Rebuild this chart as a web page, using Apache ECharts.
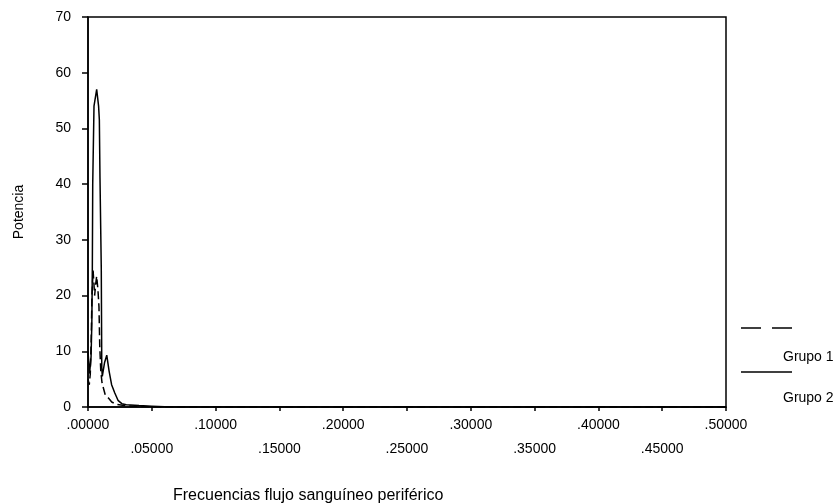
<!DOCTYPE html>
<html>
<head>
<meta charset="utf-8">
<script src="https://cdn.jsdelivr.net/npm/echarts@6/dist/echarts.min.js"></script>
<style>
html,body{margin:0;padding:0;background:#fff;}
#chart{width:839px;height:504px;}
</style>
</head>
<body>
<div id="chart"></div>
<script>
// Grupo 1 (dashed)
const freqG1 = [0, 0.0010, 0.0018, 0.0025, 0.0031, 0.0040, 0.0052, 0.0060, 0.0068, 0.0078, 0.0086, 0.0092, 0.0100, 0.0110, 0.0135, 0.0160, 0.0186, 0.0220, 0.0270, 0.0350, 0.0500, 0.0600, 0.5000];
const powG1  = [5,   4,      6,      12,     20,     24.5,   20,     22,     23.5,   21,     18,     11,     6.5,    4.3,    2.2,    1.6,    0.9,    0.5,    0.3,    0.15,   0.05,   0,      0];
// Grupo 2 (solid)
const freqG2 = [0, 0.0012, 0.0024, 0.0030, 0.0034, 0.0037, 0.0047, 0.0068, 0.0083, 0.0089, 0.0094, 0.0104, 0.0108, 0.0112, 0.0130, 0.0147, 0.0165, 0.0185, 0.0210, 0.0235, 0.0265, 0.0300, 0.0400, 0.0500, 0.0600, 0.0700, 0.5000];
const powG2  = [10,  6,      9,      15,     25,     40,     54,     57,     54,     51.5,   41,     25,     7,      5.5,    8,      9.3,    6.5,    4,      2.5,    1.2,    0.6,    0.4,    0.25,   0.15,   0.05,   0,      0];

const yTicks = [0, 10, 20, 30, 40, 50, 60, 70];
const seriesNames = ['Grupo 1', 'Grupo 2'];
const xTitle = 'Frecuencias flujo sanguíneo periférico';
const yTitle = 'Potencia';

const pairs = (xs, ys) => xs.map((x, i) => [x, ys[i]]);
const FONT = '"Liberation Sans", Arial, sans-serif';

const chart = echarts.init(document.getElementById('chart'));
chart.setOption({
  animation: false,
  backgroundColor: '#fff',
  grid: { left: 88, right: 113, top: 17, bottom: 97, show: true, borderColor: '#000', borderWidth: 1.5, backgroundColor: 'transparent' },
  xAxis: {
    type: 'value', min: 0, max: 0.5, interval: 0.05,
    axisLine: { show: true, lineStyle: { color: '#000', width: 1.5 } },
    axisTick: { show: true, length: 4, lineStyle: { color: '#000', width: 1.5 } },
    splitLine: { show: false },
    axisLabel: {
      color: '#000', fontFamily: FONT, fontSize: 14, margin: 6, lineHeight: 24,
      formatter: function (v) {
        const s = v.toFixed(5).replace(/^0/, '');
        const k = Math.round(v / 0.05);
        return (k % 2 === 1) ? '\n' + s : s;
      }
    }
  },
  yAxis: {
    type: 'value', min: yTicks[0], max: yTicks[yTicks.length - 1], interval: 10,
    name: yTitle, nameLocation: 'middle', nameGap: 62,
    nameTextStyle: { color: '#000', fontFamily: FONT, fontSize: 14 },
    axisLine: { show: true, lineStyle: { color: '#000', width: 1.5 } },
    axisTick: { show: true, length: 6, lineStyle: { color: '#000', width: 1.5 } },
    splitLine: { show: false },
    axisLabel: { color: '#000', fontFamily: FONT, fontSize: 14, margin: 17 }
  },
  series: [
    {
      name: seriesNames[0], type: 'line', data: pairs(freqG1, powG1), showSymbol: false, symbol: 'none',
      lineStyle: { color: '#000', width: 1.5, type: [8, 4] }
    },
    {
      name: seriesNames[1], type: 'line', data: pairs(freqG2, powG2), showSymbol: false, symbol: 'none',
      lineStyle: { color: '#000', width: 1.5, type: 'solid' }
    }
  ],
  graphic: [
    { type: 'line', shape: { x1: 741, y1: 328, x2: 792, y2: 328 }, style: { stroke: '#000', lineWidth: 1.5, lineDash: [20, 11] } },
    { type: 'text', left: 783, top: 350, style: { text: seriesNames[0], fill: '#000', font: '14px ' + FONT } },
    { type: 'line', shape: { x1: 741, y1: 372, x2: 792, y2: 372 }, style: { stroke: '#000', lineWidth: 1.5 } },
    { type: 'text', left: 783, top: 391, style: { text: seriesNames[1], fill: '#000', font: '14px ' + FONT } },
    { type: 'text', left: 173, top: 488, style: { text: xTitle, fill: '#000', font: '16px ' + FONT } }
  ]
});
</script>
</body>
</html>
